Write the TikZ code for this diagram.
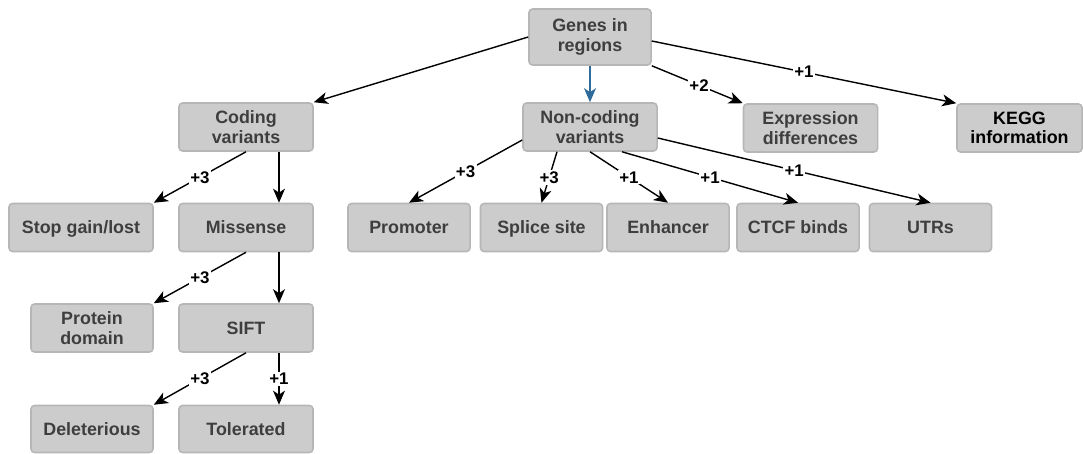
\documentclass[tikz,border=0pt]{standalone}
\usepackage{fontspec}
\setmainfont{Liberation Sans}
\usepackage{tikz}
\usetikzlibrary{arrows.meta}
\definecolor{boxfill}{RGB}{204,204,204}
\definecolor{boxline}{RGB}{182,182,182}
\definecolor{boxtext}{RGB}{62,62,62}
\definecolor{arrblue}{RGB}{47,107,154}

\begin{document}
\begin{tikzpicture}[x=0.025cm,y=-0.025cm,
  box/.style={rectangle,rounded corners=2.5pt,fill=boxfill,draw=boxline,line width=1.1pt,
    text=boxtext,font=\bfseries\fontsize{12.7}{14}\selectfont,align=center,
    inner sep=0pt,minimum height=1.2cm,minimum width=3.05cm},
  one/.style={text height=9.6pt,text depth=0.4pt},
  wide/.style={minimum width=3.35cm},
  arr/.style={line width=1pt,-{Stealth[length=10pt,width=8.5pt,inset=2.8pt]}},
  lbl/.style={fill=white,inner sep=1pt,text=black,font=\bfseries\fontsize{12}{13}\selectfont}]
  \useasboundingbox (0,0) rectangle (1083,453);
  % top
  \node[box,minimum height=1.4cm] (genes) at (590,37) {Genes in\\regions};
  \node[box,wide] (coding) at (246,127) {Coding\\variants};
  \node[box,wide] (noncoding) at (590,127) {Non-coding\\variants};
  \node[box,wide] (expr) at (810.5,128) {Expression\\differences};
  \node[box,minimum width=3.125cm,text=black] (kegg) at (1019.5,128) {KEGG\\information};
  % coding side
  \node[box,one,minimum width=3.6cm] (stop) at (81,227.5) {Stop gain/lost};
  \node[box,one,wide] (missense) at (246,227.5) {Missense};
  \node[box] (protein) at (92,328) {Protein\\domain};
  \node[box,one,wide] (sift) at (246,328) {SIFT};
  \node[box,one,minimum height=1.175cm] (delet) at (92,429) {Deleterious};
  \node[box,one,wide,minimum height=1.175cm] (toler) at (246,429) {Tolerated};
  % non-coding side
  \node[box,one] (promoter) at (409,227.5) {Promoter};
  \node[box,one] (splice) at (541.5,227.5) {Splice site};
  \node[box,one] (enhancer) at (668,227.5) {Enhancer};
  \node[box,one] (ctcf) at (798,227.5) {CTCF binds};
  \node[box,one] (utrs) at (930.5,227.5) {UTRs};

  \draw[arr] (genes.west) -- (coding.north east);
  \draw[arr,arrblue] (genes.south) -- (noncoding.north);
  \draw[arr] (genes.south east) -- node[lbl,pos=0.52]{+2} (expr.north west);
  \draw[arr] ([yshift=-0.1cm]genes.east) -- node[lbl]{+1} (kegg.north west);

  \draw[arr] (coding.south) -- node[lbl]{+3} (stop.north east);
  \draw[arr] ([xshift=0.825cm]coding.south) -- ([xshift=0.825cm]missense.north);
  \draw[arr] (missense.south) -- node[lbl]{+3} (protein.north east);
  \draw[arr] ([xshift=0.825cm]missense.south) -- ([xshift=0.825cm]sift.north);
  \draw[arr] (sift.south) -- node[lbl]{+3} (delet.north east);
  \draw[arr] ([xshift=0.825cm]sift.south) -- node[lbl]{+1} ([xshift=0.825cm]toler.north);

  \draw[arr] ([yshift=-0.325cm]noncoding.west) -- node[lbl]{+3} (promoter.north);
  \draw[arr] ([xshift=-0.825cm]noncoding.south) -- node[lbl]{+3} (splice.north);
  \draw[arr] (noncoding.south) -- node[lbl]{+1} (enhancer.north);
  \draw[arr] ([xshift=0.8cm]noncoding.south) -- node[lbl]{+1} (ctcf.north);
  \draw[arr] ([yshift=-0.275cm]noncoding.east) -- node[lbl]{+1} (utrs.north);
\end{tikzpicture}
\end{document}
